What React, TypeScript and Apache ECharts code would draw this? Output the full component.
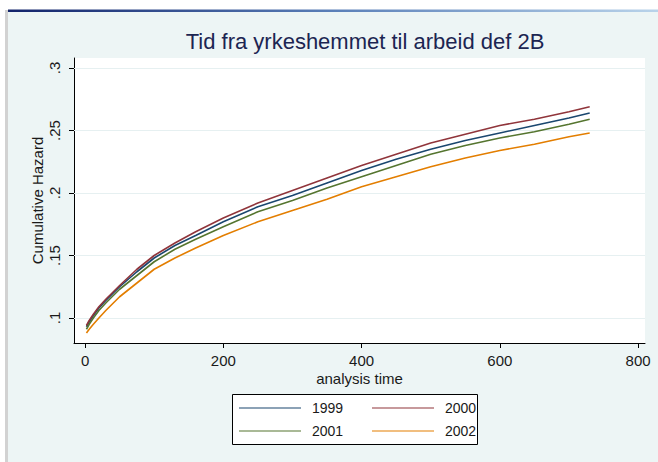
import React, { useEffect, useRef } from "react";
import * as echarts from "echarts";

const TITLE = "Tid fra yrkeshemmet til arbeid def 2B";
const X_NAME = "analysis time";
const Y_NAME = "Cumulative Hazard";
const SERIES_NAMES = ["1999", "2000", "2001", "2002"];
const SERIES_COLORS = ["#1a476f", "#90353b", "#55752f", "#e37e00"];

const TIMES = [2, 6, 12, 20, 30, 50, 75, 100, 130, 160, 200, 250, 300, 350, 400, 450, 500, 550, 600, 650, 700, 730];
const H1999 = [0.093, 0.097, 0.102, 0.108, 0.114, 0.125, 0.137, 0.148, 0.158, 0.166, 0.177, 0.189, 0.198, 0.208, 0.218, 0.227, 0.235, 0.242, 0.248, 0.254, 0.26, 0.264];
const H2000 = [0.094, 0.098, 0.103, 0.109, 0.115, 0.126, 0.139, 0.15, 0.16, 0.169, 0.18, 0.192, 0.202, 0.212, 0.222, 0.231, 0.24, 0.247, 0.254, 0.259, 0.265, 0.269];
const H2001 = [0.091, 0.095, 0.1, 0.106, 0.112, 0.123, 0.134, 0.145, 0.155, 0.163, 0.173, 0.185, 0.194, 0.204, 0.213, 0.222, 0.231, 0.238, 0.244, 0.249, 0.255, 0.259];
const H2002 = [0.088, 0.091, 0.095, 0.1, 0.106, 0.117, 0.128, 0.139, 0.148, 0.156, 0.166, 0.177, 0.186, 0.195, 0.205, 0.213, 0.221, 0.228, 0.234, 0.239, 0.245, 0.248];
const SERIES_VALUES = [H1999, H2000, H2001, H2002];

const X_TICKS = [0, 200, 400, 600, 800];
const Y_TICKS = [0.1, 0.15, 0.2, 0.25, 0.3];

const FONT = "'Liberation Sans', Arial, sans-serif";

export default function App() {
  const ref = useRef<HTMLDivElement>(null);
  useEffect(() => {
    if (!ref.current) return;
    const chart = echarts.init(ref.current, null, { renderer: "svg" });
    const legendPos = [
      { left: 239, top: 400 },
      { left: 372, top: 400 },
      { left: 239, top: 423 },
      { left: 372, top: 423 },
    ];
    const option: any = {
      animation: false,
      backgroundColor: "#ffffff",
      textStyle: { fontFamily: FONT },
      title: {
        text: TITLE,
        left: 360,
        top: 25,
        textAlign: "center",
        textStyle: { fontSize: 22, fontWeight: "normal", color: "#1c2552", fontFamily: FONT },
      },
      graphic: [
        { type: "rect", z: -10, shape: { x: 8, y: 11, width: 650, height: 451 }, style: { fill: "#edf5f5" } },
        { type: "rect", z: -9, shape: { x: 5, y: 10, width: 3, height: 452 }, style: { fill: "#d2d2d2" } },
        {
          type: "rect",
          z: -8,
          shape: { x: 8, y: 9.5, width: 650, height: 2.5 },
          style: {
            fill: new echarts.graphic.LinearGradient(0, 0, 1, 0, [
              { offset: 0, color: "#12236a" },
              { offset: 0.5, color: "#5a7fb8" },
              { offset: 1, color: "#b9d3ea" },
            ]),
          },
        },
        { type: "rect", z: 1, shape: { x: 232.5, y: 394.5, width: 245, height: 50 }, style: { fill: "#ffffff", stroke: "#000000", lineWidth: 1 } },
      ],
      legend: SERIES_NAMES.map((n, i) => ({
        data: [n],
        left: legendPos[i].left,
        top: legendPos[i].top,
        padding: 0,
        itemWidth: 62,
        itemHeight: 1,
        icon: "rect",
        selectedMode: false,
        z: 5,
        textStyle: { fontSize: 14, color: "#1a1a1a", padding: [0, 0, 0, 6], lineHeight: 16, fontFamily: FONT },
      })),
      grid: { left: 74, right: 13, top: 58, bottom: 119, show: true, backgroundColor: "#ffffff", borderWidth: 0 },
      xAxis: {
        type: "value",
        min: -16,
        max: 810,
        name: X_NAME,
        nameLocation: "middle",
        nameGap: 28,
        nameMoveOverlap: false,
        nameTextStyle: { fontSize: 15, color: "#1a1a1a", fontFamily: FONT },
        axisLine: { show: true, onZero: false, lineStyle: { color: "#000", width: 1 } },
        axisTick: { show: true, length: 5, customValues: X_TICKS, lineStyle: { color: "#000" } },
        axisLabel: { customValues: X_TICKS, fontSize: 15, color: "#1a1a1a", margin: 10, fontFamily: FONT },
        splitLine: { show: false },
      },
      yAxis: {
        type: "value",
        min: 0.08,
        max: 0.308,
        name: Y_NAME,
        nameLocation: "middle",
        nameGap: 29,
        nameMoveOverlap: false,
        nameTextStyle: { fontSize: 15, color: "#1a1a1a", fontFamily: FONT },
        axisLine: { show: true, onZero: false, lineStyle: { color: "#000", width: 1 } },
        axisTick: { show: true, length: 5, customValues: Y_TICKS, lineStyle: { color: "#000" } },
        axisLabel: {
          customValues: Y_TICKS,
          rotate: 90,
          fontSize: 15,
          color: "#1a1a1a",
          margin: 12,
          fontFamily: FONT,
          formatter: (v: number) => String(+v.toFixed(3)).replace(/^0\./, "."),
        },
        splitLine: { show: false },
      },
      series: [
        {
          name: "grid",
          type: "line",
          data: [],
          z: 1,
          silent: true,
          markLine: {
            z: 1,
            silent: true,
            symbol: "none",
            label: { show: false },
            lineStyle: { color: "#e6f0f1", width: 1, type: "solid" },
            data: Y_TICKS.map((v) => ({ yAxis: v })),
          },
        },
        ...SERIES_NAMES.map((n, i) => ({
          name: n,
          type: "line",
          z: 6,
          showSymbol: false,
          symbol: "none",
          color: SERIES_COLORS[i],
          lineStyle: { width: 1.6, color: SERIES_COLORS[i] },
          data: TIMES.map((t, j) => [t, SERIES_VALUES[i][j]]),
        })),
      ],
    };
    chart.setOption(option);
    return () => chart.dispose();
  }, []);
  return <div ref={ref} style={{ position: "fixed", left: 0, top: 0, width: 658, height: 462 }} />;
}
